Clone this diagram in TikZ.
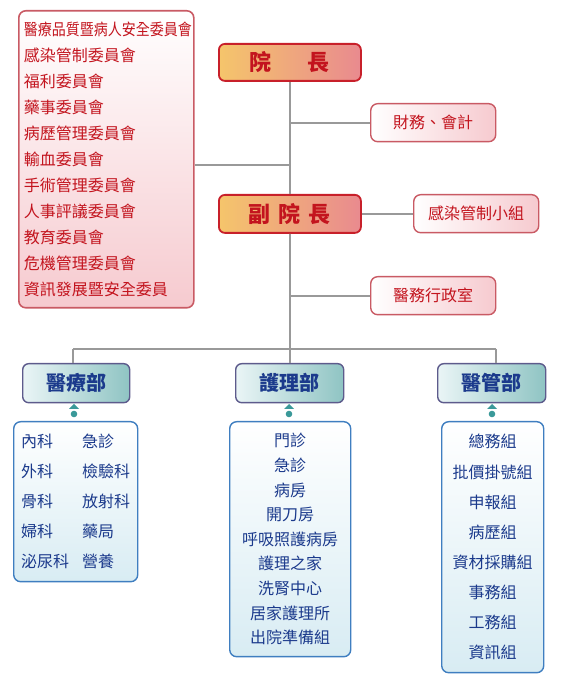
\documentclass[tikz,border=0pt]{standalone}
\usepackage{fontspec}
\setmainfont{Noto Sans CJK TC}
\usetikzlibrary{positioning}
\definecolor{inkred}{HTML}{C3141E}
\definecolor{inkblue}{HTML}{1B3A8C}
\definecolor{headline}{HTML}{C8202A}
\definecolor{headL}{HTML}{F5C56B}
\definecolor{headR}{HTML}{E98A8F}
\definecolor{subline}{HTML}{C95A64}
\definecolor{pinkA}{HTML}{F6CACF}
\definecolor{deptL}{HTML}{EAF5F6}
\definecolor{deptR}{HTML}{8FC4C3}
\definecolor{deptline}{HTML}{5D5B8C}
\definecolor{listline}{HTML}{3F7EC0}
\definecolor{blueA}{HTML}{D8ECF3}
\definecolor{linkgray}{HTML}{999999}
\definecolor{tealB}{HTML}{3A9999}
\tikzset{
  committeebox/.style={rounded corners=7pt, draw=subline, line width=1.6pt, top color=white, bottom color=pinkA, inner xsep=5pt, align=left, text=inkred, font=\fontsize{16}{26}\selectfont},
  headbox/.style={rounded corners=6pt, draw=headline, line width=1.8pt, left color=headL, right color=headR, text=inkred, font=\bfseries\fontsize{22}{24}\selectfont},
  subbox/.style={rounded corners=7pt, draw=subline, line width=1.4pt, left color=white, right color=pinkA, text=inkred, font=\fontsize{16}{18}\selectfont},
  deptbox/.style={rounded corners=6pt, draw=deptline, line width=1.4pt, left color=deptL, right color=deptR, text=inkblue, font=\bfseries\fontsize{20}{22}\selectfont},
  listbox/.style={rounded corners=7pt, draw=listline, line width=1.4pt, top color=white, bottom color=blueA, text=inkblue, align=center, inner sep=0pt},
  link/.style={draw=linkgray, line width=1.8pt}
}

\begin{document}
\begin{tikzpicture}[x=1pt,y=1pt]
\useasboundingbox (0,0) rectangle (577,690);

% committees on the left
\node[committeebox, text width=165pt, minimum height=297pt, anchor=north west] (comm) at (18,680) {
\scalebox{0.875}[1]{醫療品質暨病人安全委員會}\\
感染管制委員會\\
福利委員會\\
藥事委員會\\
病歷管理委員會\\
輸血委員會\\
手術管理委員會\\
人事評議委員會\\
教育委員會\\
危機管理委員會\\
資訊發展暨安全委員
};

% head and deputy
\node[headbox, minimum width=142pt, minimum height=37pt, anchor=north west] (head) at (218,647) {院\hspace{36pt}長};
\node[headbox, minimum width=142pt, minimum height=38pt, anchor=north west] (deputy) at (218,496) {副\hspace{8pt}院\hspace{8pt}長};

% staff offices
\node[subbox, minimum width=125pt, minimum height=38pt, anchor=north west] (finance) at (370,587) {財務、會計};
\node[subbox, minimum width=125pt, minimum height=38pt, anchor=north west] (infect) at (413,496) {感染管制小組};
\node[subbox, minimum width=125pt, minimum height=38pt, anchor=north west] (admin) at (370,414) {醫務行政室};

% departments
\node[deptbox, minimum width=107pt, minimum height=39pt, anchor=north west] (medical) at (22,327) {醫療部};
\node[deptbox, minimum width=108pt, minimum height=39pt, anchor=north west] (nursing) at (235,327) {護理部};
\node[deptbox, minimum width=108pt, minimum height=39pt, anchor=north west] (management) at (437,327) {醫管部};

% unit lists
\node[listbox, minimum width=124pt, minimum height=160pt, anchor=north west, font=\fontsize{16}{30}\selectfont] (medlist) at (13,269) {
\begin{tabular}{@{}p{49pt}l@{}}
內科 & 急診\\
外科 & 檢驗科\\
骨科 & 放射科\\
婦科 & 藥局\\
泌尿科 & 營養
\end{tabular}};
\node[listbox, minimum width=121pt, minimum height=235pt, anchor=north west, font=\fontsize{16}{24.6}\selectfont] (nurlist) at (229,269) {
門診\\急診\\病房\\開刀房\\呼吸照護病房\\護理之家\\洗腎中心\\居家護理所\\出院準備組};
\node[listbox, minimum width=102pt, minimum height=251pt, anchor=north west, font=\fontsize{16}{30.1}\selectfont] (mgtlist) at (441,269) {
總務組\\批價掛號組\\申報組\\病歷組\\資材採購組\\事務組\\工務組\\資訊組};

% connectors
\coordinate (trunkC) at (290,525);
\coordinate (bar) at (290,341);
\coordinate (dropA) at (73,341);
\coordinate (dropB) at (496,341);
\draw[link] (head.south) -- (deputy.north);
\draw[link] (comm.east |- trunkC) -- (trunkC);
\draw[link] (finance.west) -- (finance.west -| head.south);
\draw[link] (deputy.east) -- (deputy.east -| infect.west);
\draw[link] (admin.west) -- (admin.west -| deputy.south);
\draw[link] (deputy.south) -- (bar);
\draw[link] (dropA) -- (dropB);
\draw[link] (dropA) -- (dropA |- medical.north);
\draw[link] (bar) -- (nursing.north -| bar);
\draw[link] (dropB) -- (dropB |- management.north);

% markers under the departments
\foreach \mx in {74,289,492} {
  \fill[tealB] (\mx-5,281) -- (\mx+5,281) -- (\mx,286) -- cycle;
  \fill[tealB] (\mx,276) circle (3.3pt);
}

\end{tikzpicture}
\end{document}
